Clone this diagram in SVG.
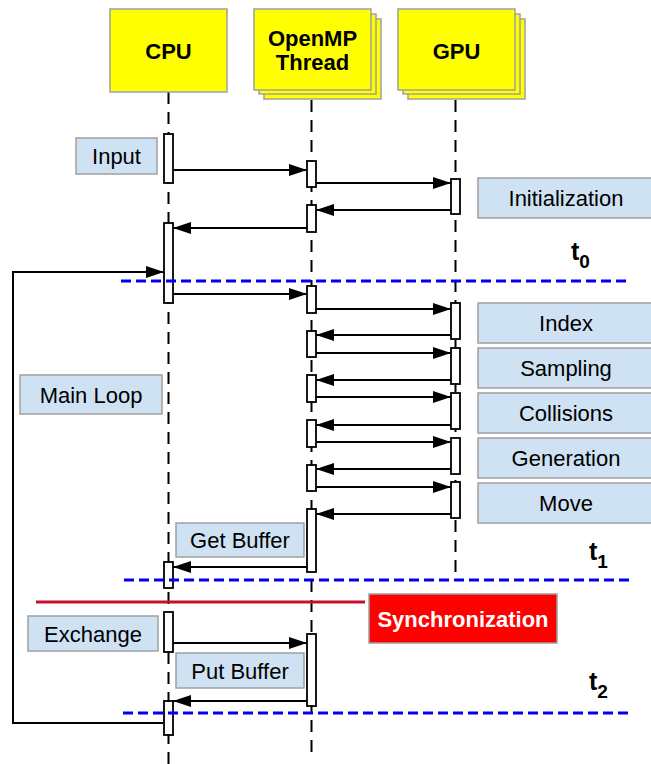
<svg xmlns="http://www.w3.org/2000/svg" width="651" height="764" viewBox="0 0 651 764">
<defs>
<marker id="ah" markerUnits="userSpaceOnUse" markerWidth="18" markerHeight="12" refX="18" refY="6" orient="auto">
<path d="M0,0 L18,6 L0,12 z" fill="#000"/>
</marker>
<style>
.hdr{fill:#ffff00;stroke:#a0a0a0;stroke-width:1.5}
.ht{font-family:"Liberation Sans",Arial,sans-serif;font-weight:bold;font-size:22px;fill:#000;text-anchor:middle}
.life{stroke:#000;stroke-width:2;stroke-dasharray:12 8;fill:none}
.act{fill:#fff;stroke:#000;stroke-width:1.8}
.msg{stroke:#000;stroke-width:2;fill:none;marker-end:url(#ah)}
.lbl{fill:#cfe2f3;stroke:#a0a0a0;stroke-width:1.5}
.lt{font-family:"Liberation Sans",Arial,sans-serif;font-size:22px;fill:#000;text-anchor:middle}
.blue{stroke:#0000ee;stroke-width:3;stroke-dasharray:10 5}
.tt{font-family:"Liberation Sans",Arial,sans-serif;font-weight:bold;font-size:25px;fill:#000}
</style>
</defs>
<rect width="651" height="764" fill="#fff"/>

<!-- lifelines -->
<g id="lifelines">
<line class="life" x1="168.5" y1="92" x2="168.5" y2="764"/>
<line class="life" x1="311.5" y1="100" x2="311.5" y2="752"/>
<line class="life" x1="455.5" y1="100" x2="455.5" y2="578"/>
</g>

<g id="cpu">
<rect class="hdr" x="110" y="9" width="117" height="83"/>
<text class="ht" x="168.5" y="58.5">CPU</text>
</g>
<g id="openmp">
<rect class="hdr" x="264" y="19" width="117" height="80"/>
<rect class="hdr" x="259" y="14" width="117" height="80"/>
<rect class="hdr" x="254" y="9" width="117" height="81"/>
<text class="ht" x="312.5" y="45.5">OpenMP</text>
<text class="ht" x="312.5" y="70">Thread</text>
</g>
<g id="gpu">
<rect class="hdr" x="408" y="19" width="117" height="80"/>
<rect class="hdr" x="403" y="14" width="117" height="80"/>
<rect class="hdr" x="398" y="9" width="117" height="81"/>
<text class="ht" x="456.5" y="58.5">GPU</text>
</g>

<!-- activations -->
<g id="activations">
<rect class="act" x="164" y="134" width="9" height="49"/>
<rect class="act" x="164" y="223" width="9" height="80"/>
<rect class="act" x="164" y="562" width="9" height="26"/>
<rect class="act" x="164" y="612" width="9" height="40"/>
<rect class="act" x="164" y="701" width="9" height="34"/>
<rect class="act" x="307" y="161" width="9" height="26"/>
<rect class="act" x="307" y="205" width="9" height="27"/>
<rect class="act" x="307" y="286" width="9" height="27"/>
<rect class="act" x="307" y="331" width="9" height="26"/>
<rect class="act" x="307" y="375" width="9" height="27"/>
<rect class="act" x="307" y="420" width="9" height="27"/>
<rect class="act" x="307" y="465" width="9" height="26"/>
<rect class="act" x="307" y="509" width="9" height="63"/>
<rect class="act" x="307" y="634" width="9" height="72"/>
<rect class="act" x="451" y="179" width="9" height="35"/>
<rect class="act" x="451" y="303" width="9" height="36"/>
<rect class="act" x="451" y="348" width="9" height="36"/>
<rect class="act" x="451" y="393" width="9" height="36"/>
<rect class="act" x="451" y="438" width="9" height="36"/>
<rect class="act" x="451" y="482" width="9" height="36"/>
</g>

<!-- connectors -->
<g id="connectors">
<line class="msg" x1="173" y1="170" x2="307" y2="170"/>
<line class="msg" x1="316" y1="183" x2="451" y2="183"/>
<line class="msg" x1="451" y1="210" x2="316" y2="210"/>
<line class="msg" x1="307" y1="228" x2="173" y2="228"/>
<path class="msg" d="M163,723 L13,723 L13,272 L164,272"/>
<line class="msg" x1="173" y1="294" x2="307" y2="294"/>
<line class="msg" x1="316" y1="309" x2="451" y2="309"/>
<line class="msg" x1="451" y1="335" x2="316" y2="335"/>
<line class="msg" x1="316" y1="353" x2="451" y2="353"/>
<line class="msg" x1="451" y1="380" x2="316" y2="380"/>
<line class="msg" x1="316" y1="397" x2="451" y2="397"/>
<line class="msg" x1="451" y1="425" x2="316" y2="425"/>
<line class="msg" x1="316" y1="442" x2="451" y2="442"/>
<line class="msg" x1="451" y1="469" x2="316" y2="469"/>
<line class="msg" x1="316" y1="487" x2="451" y2="487"/>
<line class="msg" x1="451" y1="514" x2="316" y2="514"/>
<line class="msg" x1="307" y1="567" x2="173" y2="567"/>
<line class="msg" x1="173" y1="643" x2="307" y2="643"/>
<line class="msg" x1="307" y1="701" x2="173" y2="701"/>
</g>

<!-- time lines -->
<g id="timelines">
<line class="blue" x1="121" y1="281" x2="629" y2="281"/>
<line class="blue" x1="124" y1="580" x2="633" y2="580"/>
<line class="blue" x1="123" y1="713" x2="631" y2="713"/>
<line x1="36" y1="602" x2="365" y2="602" stroke="#c8102e" stroke-width="3"/>
</g>

<g id="t0"><text class="tt" x="571" y="260">t<tspan font-size="19" dy="8">0</tspan></text></g>
<g id="t1"><text class="tt" x="589" y="560">t<tspan font-size="19" dy="8">1</tspan></text></g>
<g id="t2"><text class="tt" x="589" y="690">t<tspan font-size="19" dy="8">2</tspan></text></g>

<!-- labels -->
<g id="input"><rect class="lbl" x="76" y="138" width="81" height="36"/><text class="lt" x="116.5" y="164">Input</text></g>
<g id="initialization"><rect class="lbl" x="478" y="178" width="178" height="40"/><text class="lt" x="566" y="206">Initialization</text></g>
<g id="index"><rect class="lbl" x="478" y="303" width="178" height="40"/><text class="lt" x="566" y="331">Index</text></g>
<g id="sampling"><rect class="lbl" x="478" y="348" width="178" height="40"/><text class="lt" x="566" y="376">Sampling</text></g>
<g id="collisions"><rect class="lbl" x="478" y="393" width="178" height="40"/><text class="lt" x="566" y="421">Collisions</text></g>
<g id="generation"><rect class="lbl" x="478" y="438" width="178" height="40"/><text class="lt" x="566" y="466">Generation</text></g>
<g id="move"><rect class="lbl" x="478" y="483" width="178" height="40"/><text class="lt" x="566" y="511">Move</text></g>
<g id="mainloop"><rect class="lbl" x="20" y="375" width="142" height="39"/><text class="lt" x="91" y="402.5">Main Loop</text></g>
<g id="getbuffer"><rect class="lbl" x="176" y="523" width="128" height="34"/><text class="lt" x="240" y="548">Get Buffer</text></g>
<g id="exchange"><rect class="lbl" x="28" y="616" width="130" height="35"/><text class="lt" x="93" y="641.5">Exchange</text></g>
<g id="putbuffer"><rect class="lbl" x="176" y="653" width="128" height="35"/><text class="lt" x="240" y="678.5">Put Buffer</text></g>
<g id="synchronization"><rect x="369" y="594" width="188" height="49" fill="#ff0000" stroke="#a0a0a0" stroke-width="1.5"/><text class="ht" x="463" y="626.5" style="fill:#fff">Synchronization</text></g>
</svg>
